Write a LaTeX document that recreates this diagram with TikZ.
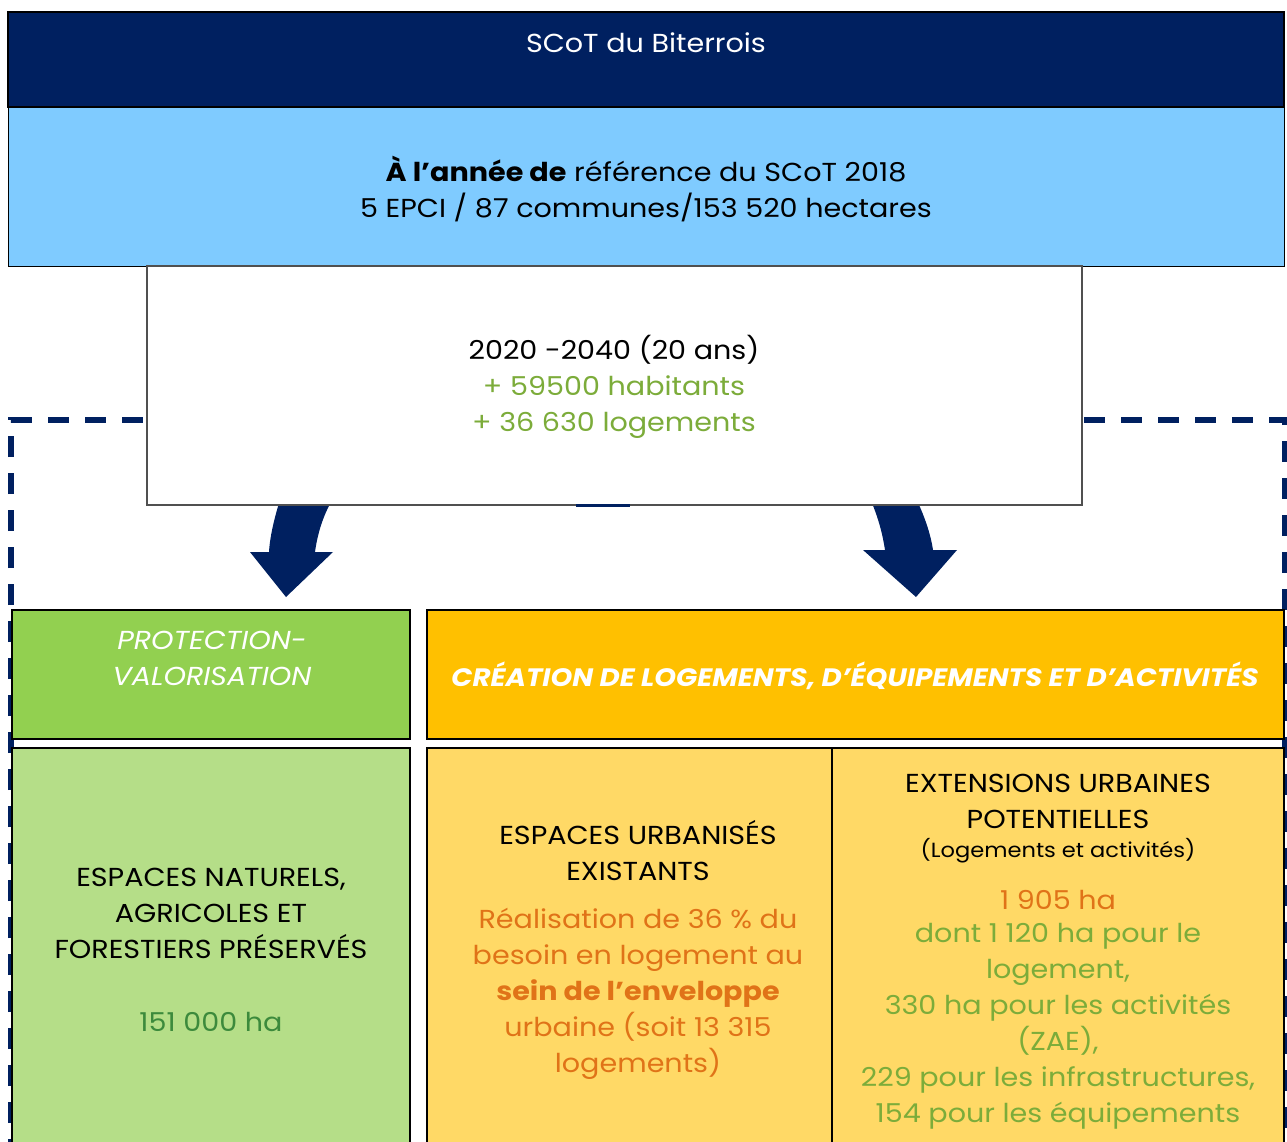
\documentclass[tikz,border=0pt]{standalone}
\usepackage{fontspec}
\setmainfont{Poppins}[FakeStretch=1.1]
\definecolor{navy}{HTML}{002060}
\definecolor{skyb}{HTML}{7FCBFF}
\definecolor{grn}{HTML}{92D050}
\definecolor{lgrn}{HTML}{B5DE88}
\definecolor{orng}{HTML}{FFC000}
\definecolor{ylw}{HTML}{FFD966}
\definecolor{txtgrn}{HTML}{7CAC3A}
\definecolor{txtorg}{HTML}{E07318}
\definecolor{dkgrn}{HTML}{3C8A3C}
\definecolor{bordg}{HTML}{505050}
\begin{document}
\begin{tikzpicture}[x=1pt,y=-1pt,
  box/.style={draw=black, line width=1.2pt, inner sep=0pt, outer sep=0pt, anchor=north west},
  txt/.style={align=center, inner sep=0pt, font=\fontsize{26}{36}\selectfont},
  small/.style={align=center, inner sep=0pt, font=\fontsize{20.5}{24}\selectfont}]
\useasboundingbox (0,0) rectangle (1287,1142);
% dashed frame
\coordinate (dA) at (11,1160);
\coordinate (dB) at (11,420);
\coordinate (dC) at (1285,420);
\coordinate (dD) at (1285,1160);
\draw[navy, line width=5.5pt, dash pattern=on 21pt off 16pt] (dA) -- (dB) -- (dC) -- (dD);
% arrows
\fill[navy] (283,490) .. controls (275,515) and (270,535) .. (269,552) -- (250,552) -- (286,597) -- (333,552) -- (315,552) .. controls (318,530) and (325,510) .. (338,490) -- cycle;
\fill[navy] (866,490) .. controls (876,510) and (882,530) .. (885,550) -- (863,550) -- (916,597) -- (957,550) -- (933,550) .. controls (930,530) and (922,510) .. (912,490) -- cycle;
% boxes
\node[box, fill=navy, minimum width=1276pt, minimum height=95pt] (hdr) at (8,12) {};
\node[box, fill=skyb, line width=0.8pt, minimum width=1276pt, minimum height=159pt] (ref) at (8,107) {};
\node[box, fill=white, draw=bordg, minimum width=935pt, minimum height=239pt] (proj) at (147,266) {};
\node[fill=navy, inner sep=0pt, minimum width=54pt, minimum height=3pt] (bar) at (603,505.5) {};
\node[box, fill=grn, minimum width=398pt, minimum height=129pt] (prot) at (12,610) {};
\node[box, fill=orng, minimum width=857pt, minimum height=129pt] (crea) at (427,610) {};
\node[box, fill=lgrn, minimum width=398pt, minimum height=420pt] (nat) at (12,748) {};
\node[box, fill=ylw, minimum width=405pt, minimum height=420pt] (urb) at (427,748) {};
\node[box, fill=ylw, minimum width=452pt, minimum height=420pt] (ext) at (832,748) {};
% texts
\node[txt, white] (t1) at (646,43) {SCoT du Biterrois};
\node[txt] (t2) at (646,189) {\textbf{À l’année de} référence du SCoT 2018\\5 EPCI / 87 communes/153 520 hectares};
\node[txt] (t3) at (614,387) {2020 -2040 (20 ans)\\\textcolor{txtgrn}{+ 59500 habitants}\\\textcolor{txtgrn}{+ 36 630 logements}};
\node[txt, white, font=\fontsize{26}{36}\selectfont\itshape] (t4) at (212,658) {PROTECTION-\\VALORISATION};
\node[txt, white, font=\fontsize{25.2}{36}\selectfont\bfseries\itshape] (t5) at (855,676) {CRÉATION DE LOGEMENTS, D’ÉQUIPEMENTS ET D’ACTIVITÉS};
\node[txt] (t6) at (211,913) {ESPACES NATURELS,\\AGRICOLES ET\\FORESTIERS PRÉSERVÉS};
\node[txt, dkgrn] (t7) at (211,1022) {151 000 ha};
\node[txt] (t8) at (638,851) {ESPACES URBANISÉS\\EXISTANTS};
\node[txt, txtorg] (t9) at (638,994) {Réalisation de 36 \% du\\besoin en logement au\\\textbf{sein de l’enveloppe}\\urbaine (soit 13 315\\logements)};
\node[txt] (t10) at (1058,801) {EXTENSIONS URBAINES\\POTENTIELLES};
\node[small] (t11) at (1058,851) {(Logements et activités)};
\node[txt, txtorg] (t12) at (1058,900) {1 905 ha};
\node[txt, txtgrn] (t13) at (1058,1026) {dont 1 120 ha pour le\\logement,\\330 ha pour les activités\\(ZAE),\\229 pour les infrastructures,\\154 pour les équipements};
\end{tikzpicture}
\end{document}
